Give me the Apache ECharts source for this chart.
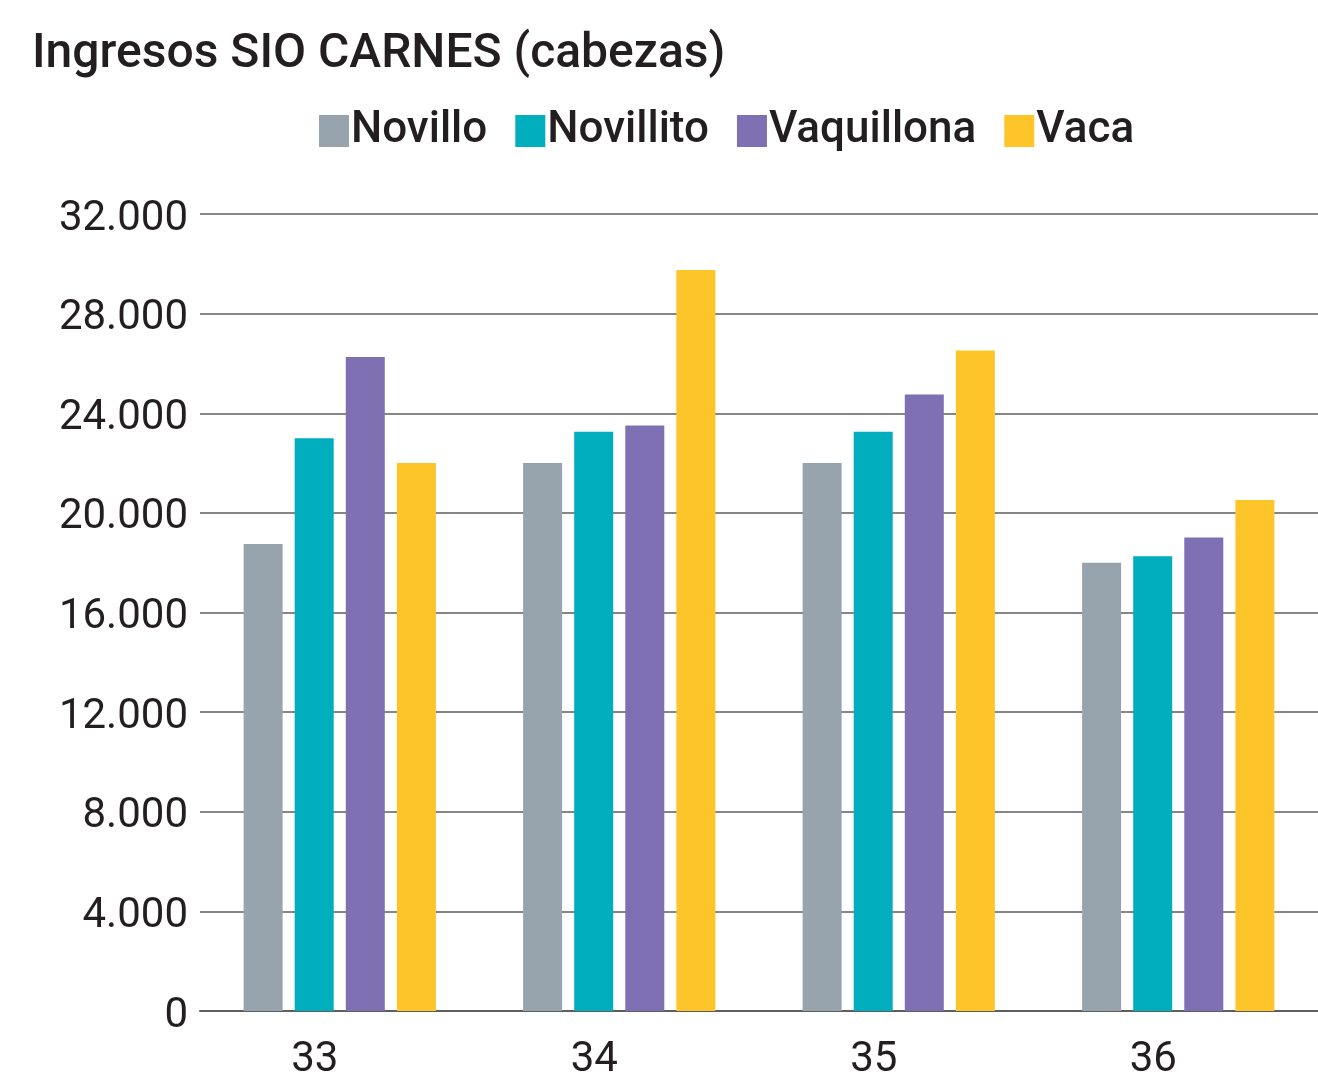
<!DOCTYPE html>
<html>
<head>
<meta charset="utf-8">
<script src="https://cdn.jsdelivr.net/npm/echarts@6/dist/echarts.min.js"></script>
<style>
html,body{margin:0;padding:0;background:#fff;}
#chart{width:1318px;height:1091px;}
</style>
</head>
<body>
<div id="chart"></div>
<script>
const titleText = 'Ingresos SIO CARNES (cabezas)';
const categories = ['33', '34', '35', '36'];
const seriesNames = ['Novillo', 'Novillito', 'Vaquillona', 'Vaca'];
const novillo = [18750, 22000, 22000, 18000];
const novillito = [23000, 23260, 23260, 18260];
const vaquillona = [26260, 23510, 24750, 19010];
const vaca = [22000, 29750, 26520, 20520];
const colors = ['#97A3AD', '#00AEBE', '#7F70B3', '#FEC52A'];

const values = [novillo, novillito, vaquillona, vaca];
const chart = echarts.init(document.getElementById('chart'));
const textColor = '#231f20';
chart.setOption({
  animation: false,
  backgroundColor: '#fff',
  title: {
    text: titleText,
    left: 27, top: 26,
    textStyle: {fontFamily: 'Roboto', fontSize: 48, fontWeight: 500, color: textColor}
  },
  legend: {
    data: seriesNames,
    left: 314, top: 104,
    itemWidth: 30, itemHeight: 32, itemGap: 28,
    icon: 'rect',
    textStyle: {fontFamily: 'Roboto', fontSize: 44, fontWeight: 500, color: textColor, padding: [0, 0, 0, -3]}
  },
  grid: {left: 200, right: 0, top: 214, bottom: 80},
  xAxis: {
    type: 'category',
    data: categories,
    axisLine: {lineStyle: {color: '#5e5e5e', width: 2}},
    axisTick: {show: false},
    axisLabel: {fontFamily: 'Roboto', fontSize: 42, color: textColor, margin: 28, padding: [0, 50, 0, 0]}
  },
  yAxis: {
    type: 'value',
    min: 0, max: 32000, interval: 4000,
    axisLine: {show: false},
    axisTick: {show: false},
    splitLine: {lineStyle: {color: '#5e5e5e', width: 1.5}},
    axisLabel: {
      margin: 12,
      formatter: v => '{a|' + v.toString().replace(/\B(?=(\d{3})+(?!\d))/g, '.') + '}',
      rich: {a: {fontFamily: 'Roboto', fontSize: 42, color: textColor, padding: [10, 0, 0, 0]}}
    }
  },
  series: seriesNames.map((n, i) => ({
    name: n,
    type: 'bar',
    data: values[i],
    barWidth: 39,
    barGap: '31%',
    itemStyle: {color: colors[i]}
  }))
});
</script>
</body>
</html>
